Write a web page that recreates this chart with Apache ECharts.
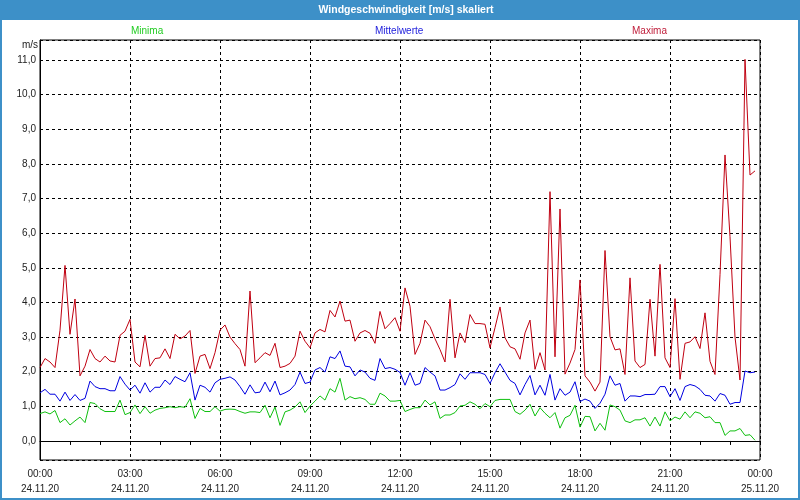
<!DOCTYPE html>
<html>
<head>
<meta charset="utf-8">
<script src="https://cdn.jsdelivr.net/npm/echarts@6/dist/echarts.min.js"></script>
<style>html,body{margin:0;padding:0;background:#fff}#c{width:800px;height:500px}</style>
</head>
<body>
<div id="c"></div>
<script>
// sample index -> minutes since 00:00 (10-minute steps)
const stepMinutes = 10;
const timeLabels = ['00:00','03:00','06:00','09:00','12:00','15:00','18:00','21:00','00:00'];
const dateLabels = ['24.11.20','24.11.20','24.11.20','24.11.20','24.11.20','24.11.20','24.11.20','24.11.20','25.11.20'];

const minima = [0.79,0.84,0.78,0.88,0.53,0.64,0.46,0.58,0.69,0.53,1.11,1.08,0.93,0.85,0.85,0.85,1.18,0.76,0.82,1.04,
0.79,0.99,0.80,0.89,0.94,0.96,0.99,0.96,0.99,0.97,1.22,0.65,0.94,0.85,0.85,0.99,0.86,0.91,0.92,0.91,
0.85,0.80,0.84,0.84,0.82,1.03,0.67,0.98,0.45,0.84,0.89,0.98,1.13,0.82,1.01,1.15,1.30,1.18,1.51,1.41,
1.81,1.18,1.28,1.22,1.25,1.20,1.06,1.06,1.38,1.30,1.15,1.15,1.17,0.85,0.91,0.96,0.96,1.18,1.04,1.13,
0.65,0.75,0.75,0.82,1.01,1.03,1.13,1.06,0.93,1.08,0.99,1.17,1.20,1.20,1.20,0.85,0.77,0.89,1.06,0.72,
0.96,0.80,0.67,0.82,0.37,0.67,0.74,1.03,0.40,0.71,0.70,0.29,0.51,0.31,1.04,0.99,0.89,0.58,0.53,0.61,
0.61,0.67,0.43,0.69,0.43,0.84,0.58,0.69,0.63,0.84,0.67,0.84,0.80,0.67,0.70,0.53,0.53,0.16,0.29,0.29,
0.36,0.16,0.18,0.02];

const mittelwerte = [1.39,1.49,1.35,1.35,1.15,1.41,1.17,1.34,1.17,1.23,1.73,1.57,1.51,1.51,1.45,1.45,1.86,1.64,1.47,1.61,
1.38,1.68,1.41,1.55,1.55,1.76,1.63,1.86,1.78,1.71,1.97,1.18,1.61,1.55,1.41,1.68,1.78,1.81,1.85,1.76,
1.57,1.35,1.62,1.39,1.41,1.70,1.42,1.73,1.33,1.39,1.47,1.63,1.99,1.66,1.70,2.05,2.12,1.99,2.43,2.38,
2.60,2.16,2.14,1.88,2.05,1.99,1.81,1.75,2.38,2.09,2.12,2.07,1.98,1.61,1.97,1.61,1.66,2.12,1.99,1.88,
1.47,1.47,1.54,1.63,1.94,1.78,1.97,1.97,1.97,1.92,1.66,1.97,2.23,1.99,1.75,1.66,1.33,1.63,1.89,1.33,
1.61,1.32,1.92,1.18,1.51,1.32,1.41,1.71,1.14,1.21,1.15,0.94,1.09,1.35,1.88,1.61,1.66,1.15,1.30,1.30,
1.28,1.34,1.34,1.35,1.57,1.57,1.28,1.51,1.17,1.57,1.63,1.59,1.49,1.32,1.30,1.15,1.37,1.32,1.06,1.11,
1.11,2.02,1.97,1.99];

const maxima = [2.12,2.38,2.28,2.12,3.20,5.07,3.08,4.10,1.88,2.16,2.64,2.38,2.28,2.45,2.31,2.28,3.05,3.17,3.51,2.28,
2.14,3.05,2.16,2.38,2.40,2.66,2.38,3.08,2.95,3.03,3.19,1.95,2.45,2.50,2.09,2.55,3.20,3.35,3.00,2.81,
2.64,2.16,4.33,2.26,2.40,2.55,2.47,2.82,2.12,2.16,2.24,2.45,3.17,2.88,2.69,3.12,3.22,3.15,3.77,3.58,
4.04,3.46,3.49,2.88,3.12,3.19,3.11,2.82,3.74,3.24,3.39,3.56,3.17,4.42,3.89,2.50,2.82,3.49,3.30,2.95,
2.64,2.28,4.09,2.40,3.12,2.84,3.65,3.39,3.39,3.37,2.69,3.27,3.87,2.98,2.72,2.66,2.36,3.12,3.49,2.07,
2.55,2.05,7.20,2.43,6.70,1.93,2.25,2.64,4.65,1.88,1.70,1.44,1.70,5.50,3.01,2.63,2.66,1.92,4.71,2.31,
2.12,2.21,4.09,2.45,5.10,2.40,2.12,4.11,1.78,2.82,2.86,3.01,2.67,3.70,2.30,1.92,4.80,8.26,5.90,3.00,
1.76,11.02,7.68,7.80];

function pairs(arr){ return arr.map((v,i)=>[i*stepMinutes, v]); }

const font = 'Liberation Sans';
const chart = echarts.init(document.getElementById('c'), null, {renderer:'canvas'});
chart.setOption({
  animation:false,
  backgroundColor:'#ffffff',
  textStyle:{fontFamily:font},
  legend:[
    {left:126, top:24, icon:'none', itemWidth:0, itemGap:0, selectedMode:false, data:[{name:'Minima', textStyle:{color:'#22cc22'}}], textStyle:{fontFamily:font,fontSize:10}, padding:0},
    {left:370, top:24, icon:'none', itemWidth:0, itemGap:0, selectedMode:false, data:[{name:'Mittelwerte', textStyle:{color:'#2222dd'}}], textStyle:{fontFamily:font,fontSize:10}, padding:0},
    {left:627, top:24, icon:'none', itemWidth:0, itemGap:0, selectedMode:false, data:[{name:'Maxima', textStyle:{color:'#c0203c'}}], textStyle:{fontFamily:font,fontSize:10}, padding:0}
  ],
  graphic:[
    {type:'rect', shape:{x:0,y:0,width:800,height:20}, style:{fill:'#3d90c8'}, z:-1},
    {type:'rect', shape:{x:0,y:0,width:2,height:500}, style:{fill:'#3d90c8'}},
    {type:'rect', shape:{x:798,y:0,width:2,height:500}, style:{fill:'#3d90c8'}},
    {type:'rect', shape:{x:0,y:498,width:800,height:2}, style:{fill:'#3d90c8'}},
    {type:'text', x:406, y:10, style:{text:'Windgeschwindigkeit [m/s] skaliert', fill:'#ffffff', font:'bold 10.5px "Liberation Sans"', textAlign:'center', textVerticalAlign:'middle'}},
    {type:'text', x:38, y:45, style:{text:'m/s', fill:'#222222', font:'10px "Liberation Sans"', textAlign:'right', textVerticalAlign:'middle'}}
  ],
  grid:{left:40, right:40, top:40, bottom:40, show:true, borderColor:'#000', borderWidth:1, backgroundColor:'#ffffff'},
  xAxis:{
    type:'value', min:0, max:1440, interval:180,
    axisLine:{show:true, lineStyle:{color:'#000'}},
    axisTick:{show:true, length:4, lineStyle:{color:'#000'}},
    minorTick:{show:true, splitNumber:3, length:4, lineStyle:{color:'#000'}},
    splitLine:{show:true, lineStyle:{color:'#000', type:[3,3], width:1}},
    axisLabel:{margin:7, color:'#222', fontSize:10, fontFamily:font, lineHeight:15,
      showMinLabel:true, showMaxLabel:true,
      formatter:function(v){ const k=Math.round(v/180); return timeLabels[k]+'\n'+dateLabels[k]; }}
  },
  yAxis:{
    type:'value', min:-0.55, max:11.58, splitNumber:12,
    axisLine:{show:true, lineStyle:{color:'#000'}},
    axisTick:{show:false},
    splitLine:{show:true, lineStyle:{color:'#000', type:[3,3], width:1}},
    axisLabel:{margin:4, color:'#222', fontSize:10, fontFamily:font, showMinLabel:false, showMaxLabel:false,
      formatter:function(v){ if (Math.abs(v-Math.round(v))>1e-6) return ''; return Math.round(v).toFixed(1).replace('.',','); }}
  },
  series:[
    {name:'Minima', type:'line', data:pairs(minima), symbol:'none', lineStyle:{color:'#10c010', width:1}, itemStyle:{color:'#10c010'}, z:3},
    {name:'Mittelwerte', type:'line', data:pairs(mittelwerte), symbol:'none', lineStyle:{color:'#0000e0', width:1}, itemStyle:{color:'#0000e0'}, z:4},
    {name:'Maxima', type:'line', data:pairs(maxima), symbol:'none', lineStyle:{color:'#c00010', width:1}, itemStyle:{color:'#c00010'}, z:5}
  ]
});
</script>
</body>
</html>
